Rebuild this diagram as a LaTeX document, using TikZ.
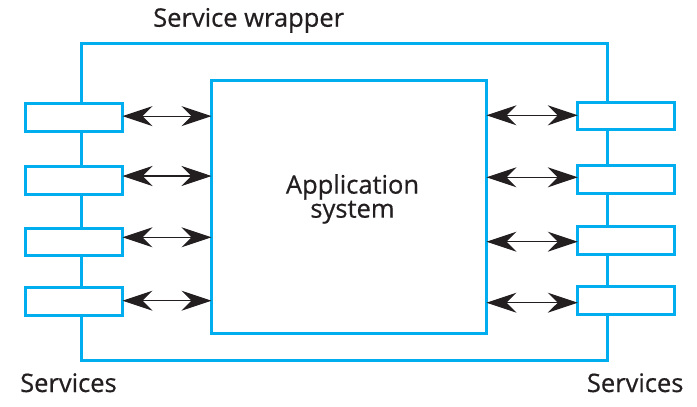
\documentclass[tikz,border=0pt]{standalone}
\usepackage{fontspec}
\setmainfont{Open Sans}
\newfontfamily\lblfont{Open Sans}[FakeBold=0.6]
\usetikzlibrary{arrows.meta}
\definecolor{wrapblue}{HTML}{00AEEF}
\definecolor{ink}{HTML}{231F20}
\begin{document}
\begin{tikzpicture}[x=1pt,y=-1pt,
  blueline/.style={draw=wrapblue,line width=3pt},
  svc/.style={blueline,fill=white,minimum width=97pt,minimum height=27.5pt,inner sep=0pt,outer sep=0pt},
  appbox/.style={blueline,minimum width=275pt,minimum height=253pt,inner sep=0pt,outer sep=0pt},
  link/.style={draw=ink,line width=1.1pt,
    arrows={Stealth[length=30pt,width=20pt,inset=10pt]-Stealth[length=30pt,width=20pt,inset=10pt]}},
  lbl/.style={text=ink,font=\lblfont\fontsize{25.5}{24}\selectfont,inner sep=0pt}]
\useasboundingbox (0,0) rectangle (697,407);
% wrapper
\draw[blueline] (81,43) rectangle (607,360);
% application
\node[appbox] (app) at (349,207.3) {};
\node[lbl,align=center] (apptext) at (352.5,199) {Application\\system};
% services left
\node[svc] (l1) at (74,117.6) {};
\node[svc] (l2) at (74,180.3) {};
\node[svc] (l3) at (74,242) {};
\node[svc] (l4) at (74,301.3) {};
% services right
\node[svc] (r1) at (626.3,115.8) {};
\node[svc] (r2) at (626.3,179.7) {};
\node[svc] (r3) at (626.3,240.5) {};
\node[svc] (r4) at (626.3,300.3) {};
% link end points
\coordinate (a1) at ([yshift=1.5pt]l1.east);
\coordinate (a2) at ([yshift=4.3pt]l2.east);
\coordinate (a3) at ([yshift=4.7pt]l3.east);
\coordinate (a4) at ([yshift=0.6pt]l4.east);
\coordinate (b1) at ([yshift=0.5pt]r1.west);
\coordinate (b2) at ([yshift=2.4pt]r2.west);
\coordinate (b3) at ([yshift=-1.2pt]r3.west);
\coordinate (b4) at ([yshift=-2.4pt]r4.west);
% links
\foreach \i in {1,2,3,4}{
  \draw[link] (a\i) -- (app.west |- a\i);
  \draw[link] (app.east |- b\i) -- (b\i);
}
% labels
\node[lbl,anchor=base west] (wraplbl) at (153,26.7) {Service wrapper};
\node[lbl,anchor=base west] (svcl) at (20,392) {Services};
\node[lbl,anchor=base west] (svcr) at (586.7,392) {Services};
\end{tikzpicture}
\end{document}
